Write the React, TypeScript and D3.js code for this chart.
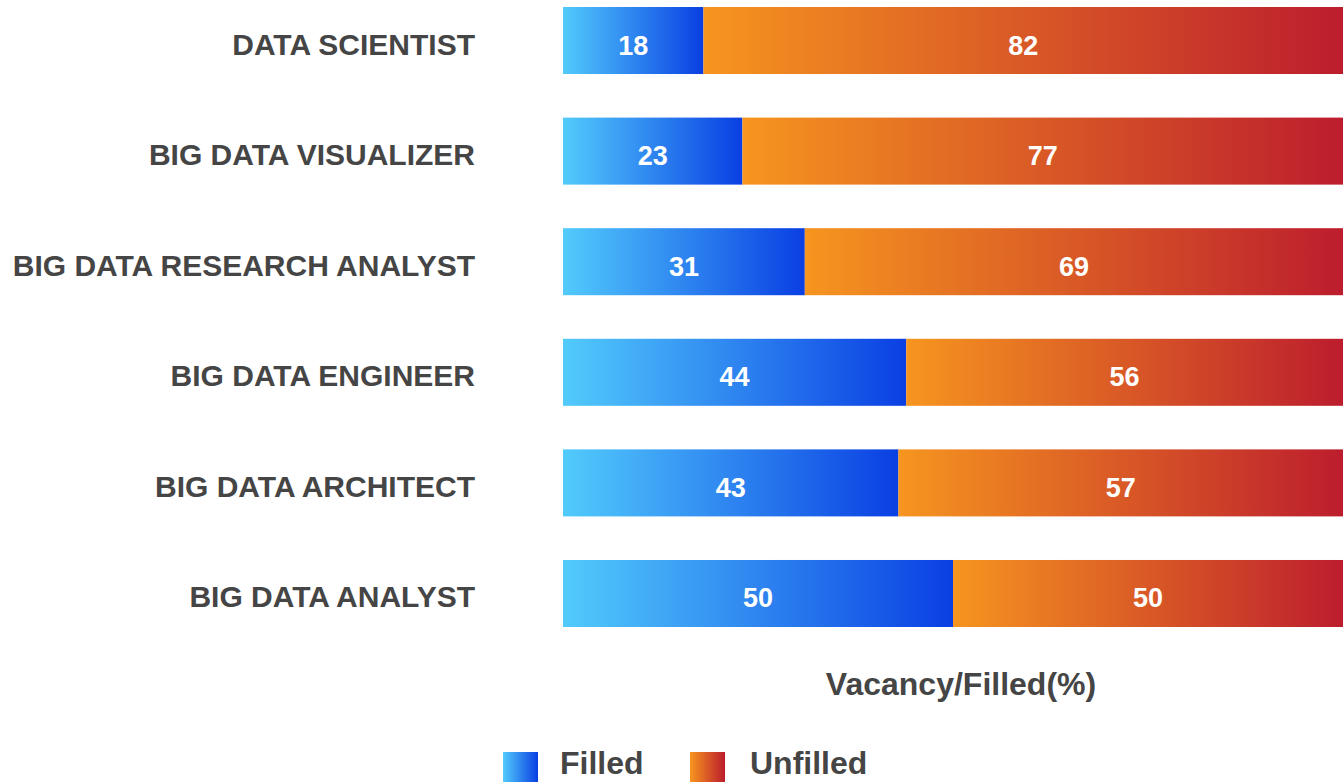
import React from 'react';
import { scaleBand, scaleLinear } from 'd3';

const ROLES = [
  'DATA SCIENTIST',
  'BIG DATA VISUALIZER',
  'BIG DATA RESEARCH ANALYST',
  'BIG DATA ENGINEER',
  'BIG DATA ARCHITECT',
  'BIG DATA ANALYST',
];
const FILLED = [18, 23, 31, 44, 43, 50];
const UNFILLED = [82, 77, 69, 56, 57, 50];
const AXIS_TITLE = 'Vacancy/Filled(%)';
const LEGEND = ['Filled', 'Unfilled'];

const WIDTH = 1343;
const HEIGHT = 782;
const PLOT = { left: 563, right: 1343, top: 7, bottom: 627 };
const FONT = '"Liberation Sans", Arial, Helvetica, sans-serif';
const TEXT_COLOR = '#454545';

const COLORS = {
  filled: ['#52cbfc', '#0a3fe3'],
  unfilled: ['#f6951f', '#bc1d2d'],
};

export default function App() {
  const x = scaleLinear().domain([0, 100]).range([PLOT.left, PLOT.right]);
  const y = scaleBand<string>()
    .domain(ROLES)
    .range([PLOT.top, PLOT.bottom])
    .paddingInner(0.394)
    .paddingOuter(0);
  const bw = y.bandwidth();
  // text sits a little below the bar middle in the original
  const textOffset = 14;

  return (
    <svg
      width={WIDTH}
      height={HEIGHT}
      style={{ position: 'absolute', left: 0, top: 0, display: 'block', background: '#fff' }}
      fontFamily={FONT}
    >
      <defs>
        <linearGradient id="grad-filled" x1="0" x2="1" y1="0" y2="0">
          <stop offset="0%" stopColor={COLORS.filled[0]} />
          <stop offset="100%" stopColor={COLORS.filled[1]} />
        </linearGradient>
        <linearGradient id="grad-unfilled" x1="0" x2="1" y1="0" y2="0">
          <stop offset="0%" stopColor={COLORS.unfilled[0]} />
          <stop offset="100%" stopColor={COLORS.unfilled[1]} />
        </linearGradient>
      </defs>

      {ROLES.map((role, i) => {
        const y0 = y(role) ?? 0;
        const xf = x(FILLED[i]);
        const xu = x(FILLED[i] + UNFILLED[i]);
        const ty = y0 + bw / 2 + textOffset;
        return (
          <g key={role}>
            <text x={475} y={ty} textAnchor="end" fontSize={30} fontWeight="bold" fill={TEXT_COLOR}>
              {role}
            </text>
            <rect x={x(0)} y={y0} width={xf - x(0)} height={bw} fill="url(#grad-filled)" />
            <rect x={xf} y={y0} width={xu - xf} height={bw} fill="url(#grad-unfilled)" />
            <text x={(x(0) + xf) / 2} y={ty} textAnchor="middle" fontSize={27} fontWeight="bold" fill="#fff">
              {FILLED[i]}
            </text>
            <text x={(xf + xu) / 2} y={ty} textAnchor="middle" fontSize={27} fontWeight="bold" fill="#fff">
              {UNFILLED[i]}
            </text>
          </g>
        );
      })}

      <text x={961} y={695} textAnchor="middle" fontSize={32} fontWeight="bold" fill={TEXT_COLOR}>
        {AXIS_TITLE}
      </text>

      {LEGEND.map((label, i) => {
        const lx = [503, 690][i];
        return (
          <g key={label} transform={`translate(${lx},0)`}>
            <rect
              x={0}
              y={752}
              width={35}
              height={40}
              fill={i === 0 ? 'url(#grad-filled)' : 'url(#grad-unfilled)'}
            />
            <text x={i === 0 ? 57 : 60} y={774} fontSize={32} fontWeight="bold" fill={TEXT_COLOR}>
              {label}
            </text>
          </g>
        );
      })}
    </svg>
  );
}
